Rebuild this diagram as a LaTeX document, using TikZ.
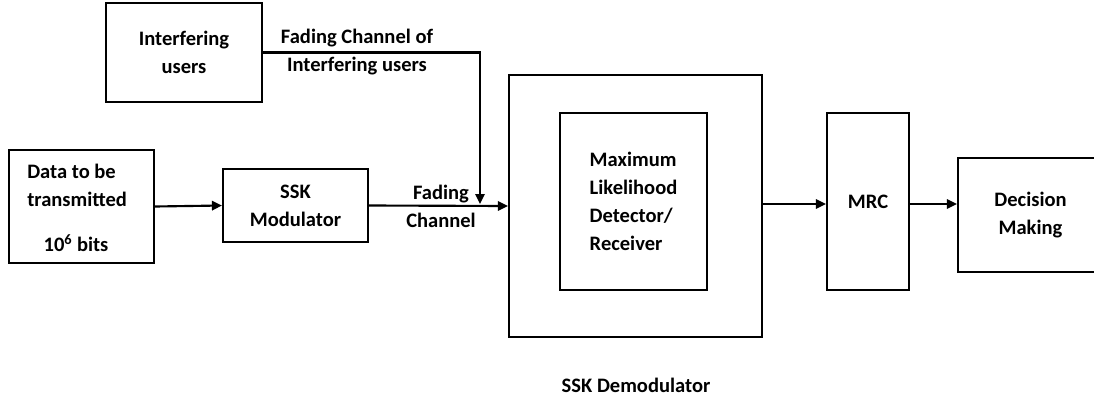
\documentclass[tikz,border=0pt]{standalone}
\usepackage{fontspec}
\setmainfont{Carlito}
\usetikzlibrary{arrows.meta,calc}
\begin{document}
\begin{tikzpicture}[x=0.75pt,y=-0.75pt,
  box/.style={draw,line width=1.6pt,inner sep=0pt,align=center,font=\fontsize{15.4}{21}\selectfont\bfseries},
  txt/.style={inner sep=0pt,align=center,font=\fontsize{15.4}{21}\selectfont\bfseries},
  arr/.style={line width=1.6pt,-{Triangle[length=7.5pt,width=7pt]}}]
\useasboundingbox (0,0) rectangle (1094,400);
\clip (0,0) rectangle (1094,400);
% boxes
\node[box,minimum width=156*0.75pt,minimum height=99*0.75pt] (iu) at (184,52.5) {Interfering\\users};
\node[box,minimum width=145*0.75pt,minimum height=113*0.75pt] (data) at (81.5,206.5) {};
\node[txt,anchor=west,align=left] (datat) at (27,185.5) {Data to be\\transmitted};
\node[txt] (bits) at (76,243) {10\textsuperscript{6} bits};
\node[box,minimum width=145*0.75pt,minimum height=73*0.75pt] (ssk) at (295.5,205.5) {SSK\\Modulator};
\node[box,minimum width=253*0.75pt,minimum height=262*0.75pt] (outer) at (635.5,206) {};
\node[box,minimum width=147*0.75pt,minimum height=177*0.75pt,align=left] (ml) at (633.5,201.5) {Maximum\\Likelihood\\Detector/\\Receiver};
\node[box,minimum width=82*0.75pt,minimum height=177*0.75pt] (mrc) at (868,201.5) {MRC};
\node[box,minimum width=145*0.75pt,minimum height=114*0.75pt] (dec) at (1030.5,215) {Decision\\Making};
% labels
\node[txt] (fci) at (357,52) {Fading Channel of\\Interfering users};
\node[txt] (fc) at (441,206.5) {Fading\\Channel};
\node[txt] (demod) at (636,385) {SSK Demodulator};
% connectors
\coordinate (j) at (480,204);
\draw[arr] (data.east) -- (ssk.west);
\draw[arr] (ssk.east) -- (outer.west);
\draw[arr] (iu.east) -| (j);
\draw[arr] (outer.east |- 0,204) -- (mrc.west |- 0,204);
\draw[arr] (mrc.east |- 0,204) -- (dec.west |- 0,204);
\end{tikzpicture}
\end{document}
